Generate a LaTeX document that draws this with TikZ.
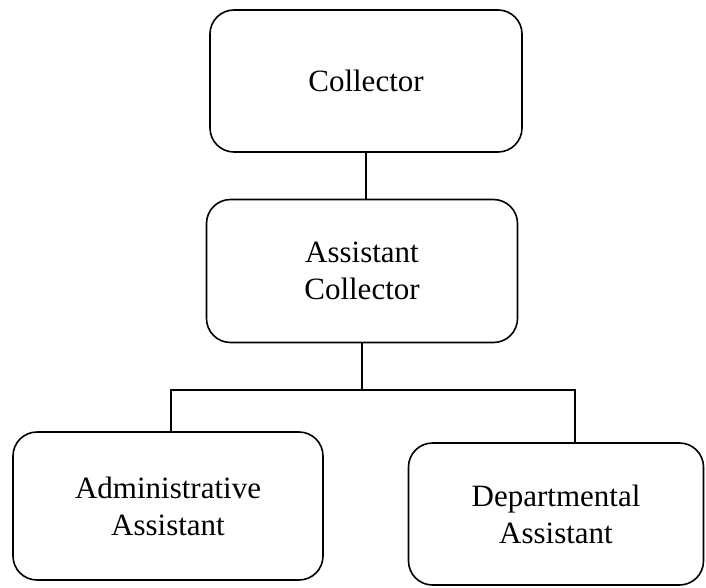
\documentclass[tikz,border=0pt]{standalone}
\usepackage{fontspec}
\setmainfont{Liberation Serif}
\begin{document}
\begin{tikzpicture}[x=1pt,y=-1pt,
  orgbox/.style={draw, line width=1.6pt, rounded corners=24pt, align=center,
    font=\fontsize{31}{37}\selectfont, inner sep=0pt},
  link/.style={line width=1.5pt}]
\useasboundingbox (0,0) rectangle (706,588);
\node[orgbox, minimum width=312pt, minimum height=142pt] (coll) at (366,81) {Collector};
\node[orgbox, minimum width=311pt, minimum height=143pt] (asst) at (362,271) {Assistant\\Collector};
\node[orgbox, minimum width=310pt, minimum height=148pt] (admin) at (168,506) {Administrative\\Assistant};
\node[orgbox, minimum width=295pt, minimum height=142pt] (dept) at (556,514) {Departmental\\Assistant};
\coordinate (jl) at (171,390);
\coordinate (jr) at (575,390);
\draw[link] (coll.south) -- (coll.south |- asst.north);
\draw[link] (asst.south) -- (asst.south |- jl);
\draw[link] (jl |- admin.north) -- (jl) -- (jr) -- (jr |- dept.north);
\end{tikzpicture}
\end{document}
